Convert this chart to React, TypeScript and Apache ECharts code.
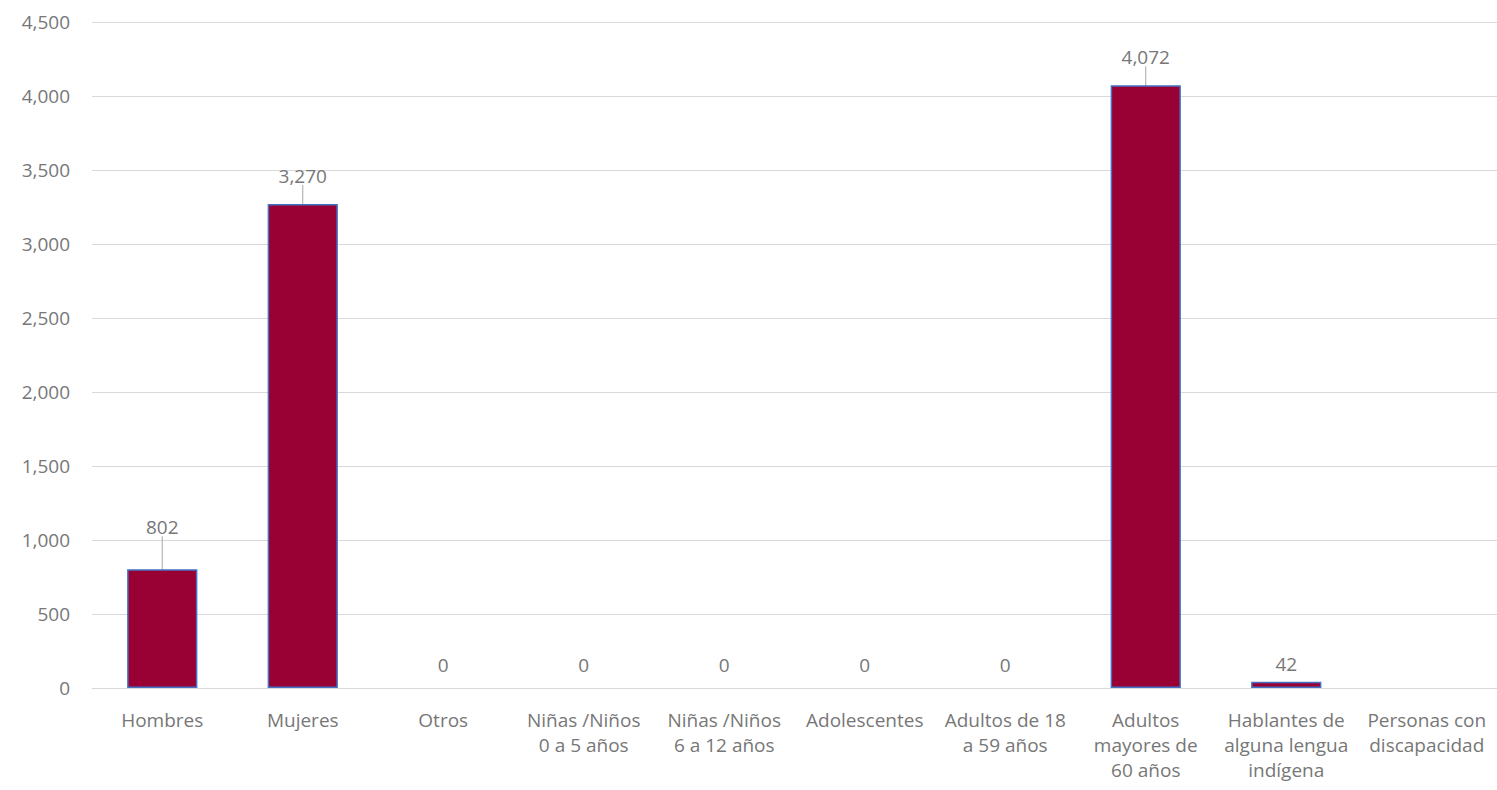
import React, { useEffect, useRef } from "react";
import * as echarts from "echarts";

const categories = [
  "Hombres",
  "Mujeres",
  "Otros",
  "Niñas /Niños\n0 a 5 años",
  "Niñas /Niños\n6 a 12 años",
  "Adolescentes",
  "Adultos de 18\na 59 años",
  "Adultos\nmayores de\n60 años",
  "Hablantes de\nalguna lengua\nindígena",
  "Personas con\ndiscapacidad",
];
const values: (number | null)[] = [802, 3270, 0, 0, 0, 0, 0, 4072, 42, null];
const yTicks = { min: 0, max: 4500, interval: 500 };

// label lift (px) for labels with leader lines
const labelLift: Record<number, number> = { 0: -27, 1: -13, 7: -13 };

export default function App() {
  const ref = useRef<HTMLDivElement>(null);
  useEffect(() => {
    if (!ref.current) return;
    const chart = echarts.init(ref.current, null, { renderer: "svg" });
    const font = "'Open Sans'";
    const textColor = "#777777";
    chart.setOption({
      animation: false,
      textStyle: { fontFamily: font },
      grid: { left: 92, right: 0, top: 22, bottom: 102, containLabel: false },
      xAxis: {
        type: "category",
        data: categories,
        axisLine: { lineStyle: { color: "#d9d9d9", width: 1 } },
        axisTick: { show: false },
        axisLabel: {
          color: textColor,
          fontSize: 19,
          lineHeight: 25,
          margin: 19,
          interval: 0,
          fontFamily: font,
        },
      },
      yAxis: {
        type: "value",
        min: yTicks.min,
        max: yTicks.max,
        interval: yTicks.interval,
        axisLine: { show: false },
        axisTick: { show: false },
        splitLine: { lineStyle: { color: "#d9d9d9", width: 1 } },
        axisLabel: {
          color: textColor,
          fontSize: 19,
          margin: 22,
          fontFamily: font,
          formatter: (v: number) => v.toLocaleString("en-US"),
        },
      },
      series: [
        {
          type: "bar",
          barWidth: "50%",
          data: values.map((v, i) => {
            if (v === null) return { value: null, label: { show: false } };
            if (labelLift[i] !== undefined) return { value: v };
            return {
              value: v,
              label: { distance: v === 0 ? 14 : 8 },
              labelLine: { show: false },
              itemStyle: v === 0 ? { borderWidth: 0 } : {},
            };
          }),
          itemStyle: {
            color: "#990033",
            borderColor: "#4472C4",
            borderWidth: 1.5,
          },
          label: {
            show: true,
            position: "top",
            distance: 6,
            color: textColor,
            fontSize: 19,
            fontFamily: font,
            formatter: (p: any) =>
              p.value === null || p.value === undefined
                ? ""
                : Number(p.value).toLocaleString("en-US"),
          },
          labelLine: {
            show: true,
            lineStyle: { color: "#a6a6a6", width: 1 },
          },
          labelLayout: (params: any) => {
            const dy = labelLift[params.dataIndex];
            return dy !== undefined ? { dy } : {};
          },
        },
      ],
    });
    return () => chart.dispose();
  }, []);
  return (
    <div
      ref={ref}
      style={{ position: "fixed", left: 0, top: 0, width: 1497, height: 790, background: "#fff" }}
    />
  );
}
